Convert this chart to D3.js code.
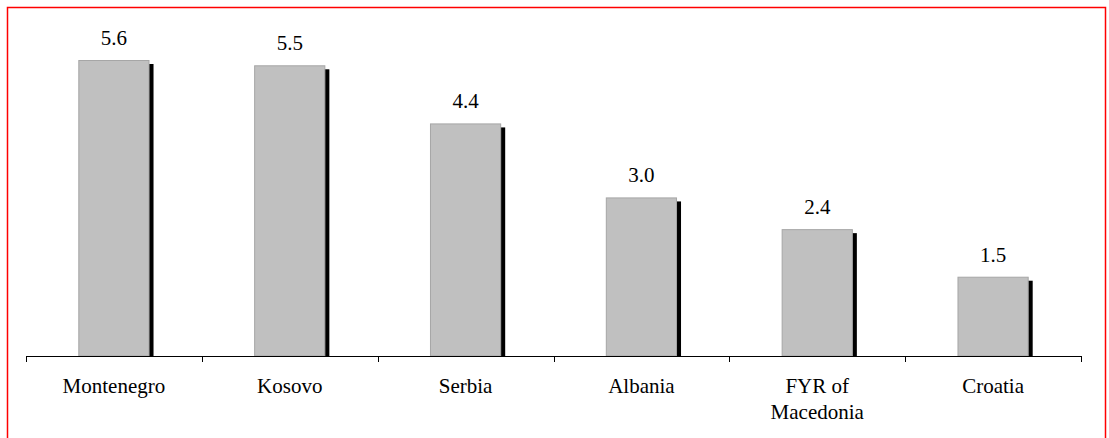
<!DOCTYPE html>
<html>
<head>
<meta charset="utf-8">
<script src="https://cdn.jsdelivr.net/npm/d3@7"></script>
<style>
  html, body { margin: 0; padding: 0; background: #fff; }
  svg { display: block; }
</style>
</head>
<body>
<svg id="chart" width="1109" height="438"></svg>
<script>
// Values per country
const categories = ["Montenegro", "Kosovo", "Serbia", "Albania", "FYR of|Macedonia", "Croatia"];
const values = [5.6, 5.5, 4.4, 3.0, 2.4, 1.5];
const valueLabels = ["5.6", "5.5", "4.4", "3.0", "2.4", "1.5"];

const W = 1109, H = 438;
const FONT = "Liberation Serif";
const FONT_SIZE = "21px";
const svg = d3.select("#chart");

// Red frame around the chart area
svg.append("rect")
  .attr("x", 7.5).attr("y", 7.5)
  .attr("width", 1098).attr("height", 440)
  .attr("fill", "none").attr("stroke", "#ff0000").attr("stroke-width", 1.5);

const plotLeft = 26, plotRight = W - 28;
const baseY = 356;

const x = d3.scaleBand()
  .domain(categories)
  .range([plotLeft, plotRight])
  .paddingInner(0.595)
  .paddingOuter(0.2975);

const y = d3.scaleLinear()
  .domain([0, 5.6])
  .range([baseY, 60]);

const g = svg.append("g");

// Drop shadow behind each bar
g.selectAll("rect.shadow")
  .data(values)
  .join("rect")
  .attr("class", "shadow")
  .attr("x", (d, i) => x(categories[i]) + 4)
  .attr("y", d => y(d) + 4)
  .attr("width", x.bandwidth())
  .attr("height", d => baseY - y(d) - 4)
  .attr("fill", "#000");

// Bars
g.selectAll("rect.bar")
  .data(values)
  .join("rect")
  .attr("class", "bar")
  .attr("x", (d, i) => x(categories[i]) + 0.5)
  .attr("y", d => y(d) + 0.5)
  .attr("width", x.bandwidth() - 1)
  .attr("height", d => baseY - y(d) - 0.5)
  .attr("fill", "#c0c0c0")
  .attr("stroke", "#a6a6a6")
  .attr("stroke-width", 1);

// Value labels
g.selectAll("text.val")
  .data(values)
  .join("text")
  .attr("class", "val")
  .attr("x", (d, i) => x(categories[i]) + x.bandwidth() / 2)
  .attr("y", d => y(d) - 15)
  .attr("text-anchor", "middle")
  .style("font-family", FONT)
  .style("font-size", FONT_SIZE)
  .style("fill", "#000")
  .text((d, i) => valueLabels[i]);

// Category axis with boundary ticks
const step = (plotRight - plotLeft) / categories.length;
const axisG = svg.append("g");
axisG.append("line")
  .attr("x1", plotLeft).attr("x2", plotRight)
  .attr("y1", baseY + 0.5).attr("y2", baseY + 0.5)
  .attr("stroke", "#000").attr("stroke-width", 1);
axisG.selectAll("line.tick")
  .data(d3.range(categories.length + 1))
  .join("line")
  .attr("class", "tick")
  .attr("x1", i => Math.round(plotLeft + i * step) + 0.5)
  .attr("x2", i => Math.round(plotLeft + i * step) + 0.5)
  .attr("y1", baseY).attr("y2", baseY + 6)
  .attr("stroke", "#000").attr("stroke-width", 1);

// Category labels, one text element per line ("|" marks a line break)
const catLines = categories.flatMap(c =>
  c.split("|").map((line, k) => ({ cat: c, line, k })));
axisG.selectAll("text.cat")
  .data(catLines)
  .join("text")
  .attr("class", "cat")
  .attr("text-anchor", "middle")
  .attr("x", d => x(d.cat) + x.bandwidth() / 2)
  .attr("y", d => 393 + d.k * 26)
  .style("font-family", FONT)
  .style("font-size", FONT_SIZE)
  .style("fill", "#000")
  .text(d => d.line);
</script>
</body>
</html>
